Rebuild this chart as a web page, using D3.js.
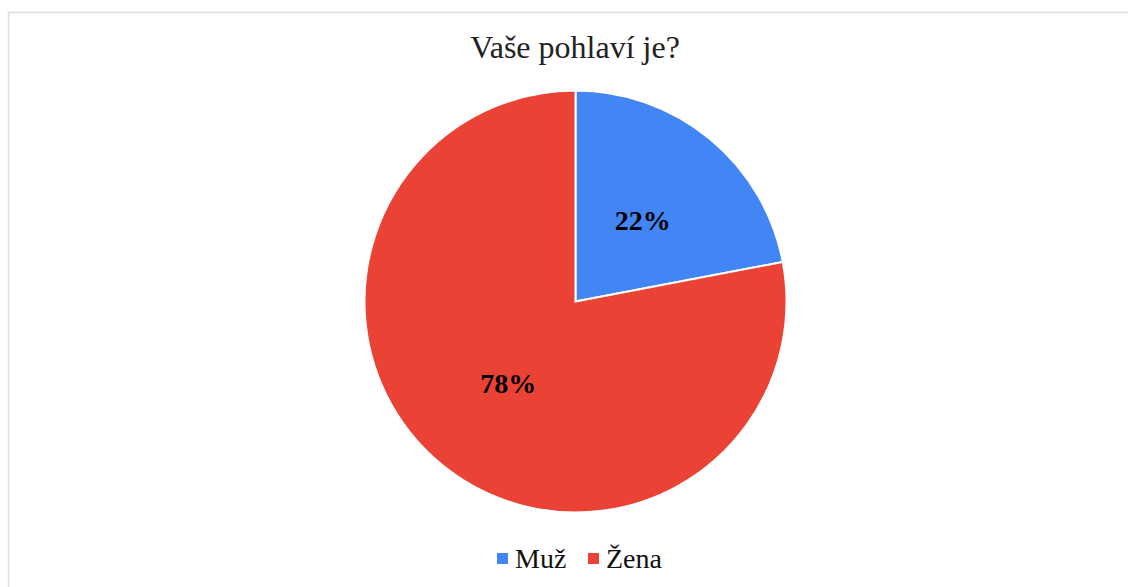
<!DOCTYPE html>
<html>
<head>
<meta charset="utf-8">
<script src="https://cdn.jsdelivr.net/npm/d3@7"></script>
<style>
  body { margin: 0; background: #fff; }
  text { font-family: "Liberation Serif", "Times New Roman", serif; }
</style>
</head>
<body>
<svg id="chart" width="1128" height="587"></svg>
<script>
// data
const categories = ["Muž", "Žena"];
const values = [22, 78];
const colors = ["#4285F4", "#EA4335"];
const title = "Vaše pohlaví je?";

const svg = d3.select("#chart");
const width = 1128, height = 587;

// chart frame (only top and left edges are visible in the reference)
svg.append("rect")
  .attr("x", 8.5).attr("y", 12.5)
  .attr("width", 1140).attr("height", 600)
  .attr("fill", "none")
  .attr("stroke", "#dcdcdc")
  .attr("stroke-width", 1.5);

svg.append("text")
  .attr("x", 575).attr("y", 58)
  .attr("text-anchor", "middle")
  .attr("font-size", 32)
  .attr("fill", "#222")
  .text(title);

let data = categories.map((c, i) => ({ name: c, value: values[i], color: colors[i] }));

let radius = 211;
let cx = 575.5, cy = 301.5;

let pie = d3.pie().value(d => d.value).sort(null);
let arc = d3.arc().innerRadius(0).outerRadius(radius);

let g = svg.append("g").attr("transform", `translate(${cx},${cy})`);

let slices = g.selectAll("g.slice")
  .data(pie(data)).enter().append("g")
  .attr("class", "slice");

slices.append("path")
  .attr("d", arc)
  .attr("fill", d => d.data.color)
  .attr("stroke", "#fff")
  .attr("stroke-width", 2);

let total = d3.sum(values);
slices.append("text")
  .attr("transform", d => `translate(${arc.centroid(d)})`)
  .attr("text-anchor", "middle")
  .attr("dy", "0.35em")
  .attr("font-size", 28)
  .attr("font-weight", "bold")
  .attr("fill", "#000")
  .text(d => Math.round(d.data.value / total * 100) + "%");

// legend
let legendX = [497, 588];
let legend = svg.append("g");
let items = legend.selectAll("g")
  .data(data).enter().append("g")
  .attr("transform", (d, i) => `translate(${legendX[i]}, 553)`);

items.append("rect")
  .attr("width", 11).attr("height", 11)
  .attr("fill", d => d.color);

items.append("text")
  .attr("x", 18).attr("y", 15)
  .attr("font-size", 28)
  .attr("fill", "#111")
  .text(d => d.name);
</script>
</body>
</html>
